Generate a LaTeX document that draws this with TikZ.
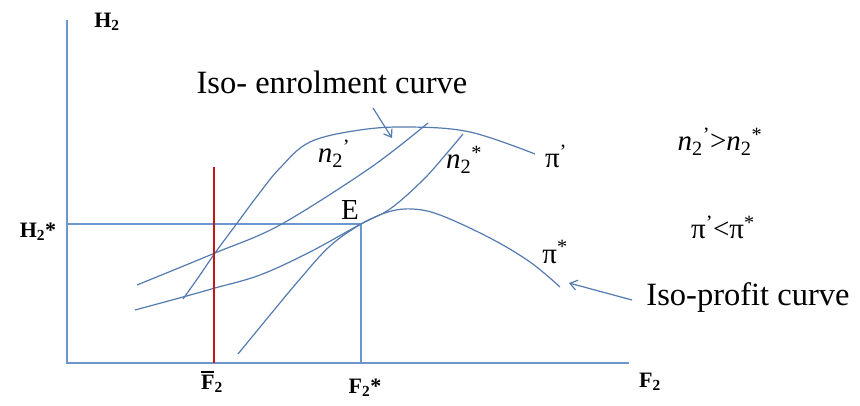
\documentclass[tikz,border=0pt]{standalone}
\usepackage{fontspec}
\setmainfont{Liberation Serif}
\usetikzlibrary{arrows.meta}
\definecolor{curveblue}{RGB}{84,123,176}
\definecolor{axisblue}{RGB}{108,150,205}
\definecolor{darkred}{RGB}{200,20,20}
\begin{document}
\begin{tikzpicture}[x=1pt,y=-1pt,
  curve/.style={curveblue,line width=1.2pt},
  axis/.style={axisblue,line width=1.6pt},
  redline/.style={darkred,line width=2pt},
  pointer/.style={curveblue,line width=1.2pt,-{Straight Barb[length=7pt,width=10pt]}},
  bigtext/.style={font=\fontsize{32.5}{36}\selectfont,inner sep=0pt},
  axlbl/.style={font=\fontsize{22}{26}\selectfont\bfseries,inner sep=0pt},
  mlbl/.style={font=\fontsize{29}{33}\selectfont,inner sep=0pt},
  elbl/.style={font=\fontsize{29}{33}\selectfont,inner sep=0pt}]
\useasboundingbox (0,0) rectangle (860,406);
\fill[white] (0,0) rectangle (860,406);
% key points
\coordinate (ytop) at (67,20);
\coordinate (O) at (67,363);
\coordinate (xend) at (629,363);
\coordinate (H2s) at (67,224);
\coordinate (E) at (361,224);
\coordinate (F2s) at (361,363);
\coordinate (Fbar) at (214,363);
\coordinate (Fbartop) at (214,167);
% axes and guide lines
\draw[axis] (ytop) -- (O) -- (xend);
\draw[axis] (H2s) -- (E) -- (F2s);
% iso-profit pi' (upper)
\draw[curve] plot[smooth,tension=0.6] coordinates {(183,299) (200,275) (215,253) (235,226) (258,195) (280,168) (310,142) (360,130) (410,127) (470,132) (535,154)};
% iso-profit pi* (lower)
\draw[curve] plot[smooth,tension=0.6] coordinates {(135,310) (183,297) (215,288) (260,275) (310,252) (361,224) (388,212) (412,209) (440,215) (490,238) (530,262) (560,287)};
% iso-enrolment n2'
\draw[curve] plot[smooth,tension=0.55] coordinates {(137,285) (215,253) (280,225) (370,168) (428,123)};
% iso-enrolment n2*
\draw[curve] plot[smooth,tension=0.6] coordinates {(238,354) (270,315) (300,279) (330,246) (361,224) (390,209) (423,180) (447,153) (463,134)};
% red line
\draw[redline] (Fbar) -- (Fbartop);
% labels
\node[axlbl] (h2) at (107,22) {H\textsubscript{2}};
\node[axlbl] (h2star) at (38,232) {H\textsubscript{2}*};
\node[axlbl] (fbar) at (212,382) {\makebox[0pt][l]{\raisebox{17pt}{\rule{13pt}{1.6pt}}}F\textsubscript{2}};
\node[axlbl] (f2star) at (365,388) {F\textsubscript{2}*};
\node[axlbl] (f2) at (650,382) {F\textsubscript{2}};
\node[elbl] (elab) at (350,210) {E};
\node[mlbl] (n2p) at (334,154) {\textit{n}\textsubscript{2}\textsuperscript{’}};
\node[mlbl] (n2s) at (464,160) {\textit{n}\textsubscript{2}\textsuperscript{*}};
\node[mlbl] (pip) at (556,156) {π\textsuperscript{’}};
\node[mlbl] (pis) at (555,252) {π\textsuperscript{*}};
\node[mlbl] (cmpn) at (720,142) {\textit{n}\textsubscript{2}\textsuperscript{’}>\textit{n}\textsubscript{2}\textsuperscript{*}};
\node[mlbl] (cmppi) at (723,227) {π\textsuperscript{’}<π\textsuperscript{*}};
\node[bigtext] (iso1) at (332,82) {Iso- enrolment curve};
\node[bigtext] (iso2) at (748,298) {Iso-profit curve};
% pointers
\coordinate (p1tail) at (373,108);
\coordinate (p1head) at (392,138);
\coordinate (p2tail) at (632,300);
\coordinate (p2head) at (569,283);
\draw[pointer] (p1tail) -- (p1head);
\draw[pointer] (p2tail) -- (p2head);
\end{tikzpicture}
\end{document}
